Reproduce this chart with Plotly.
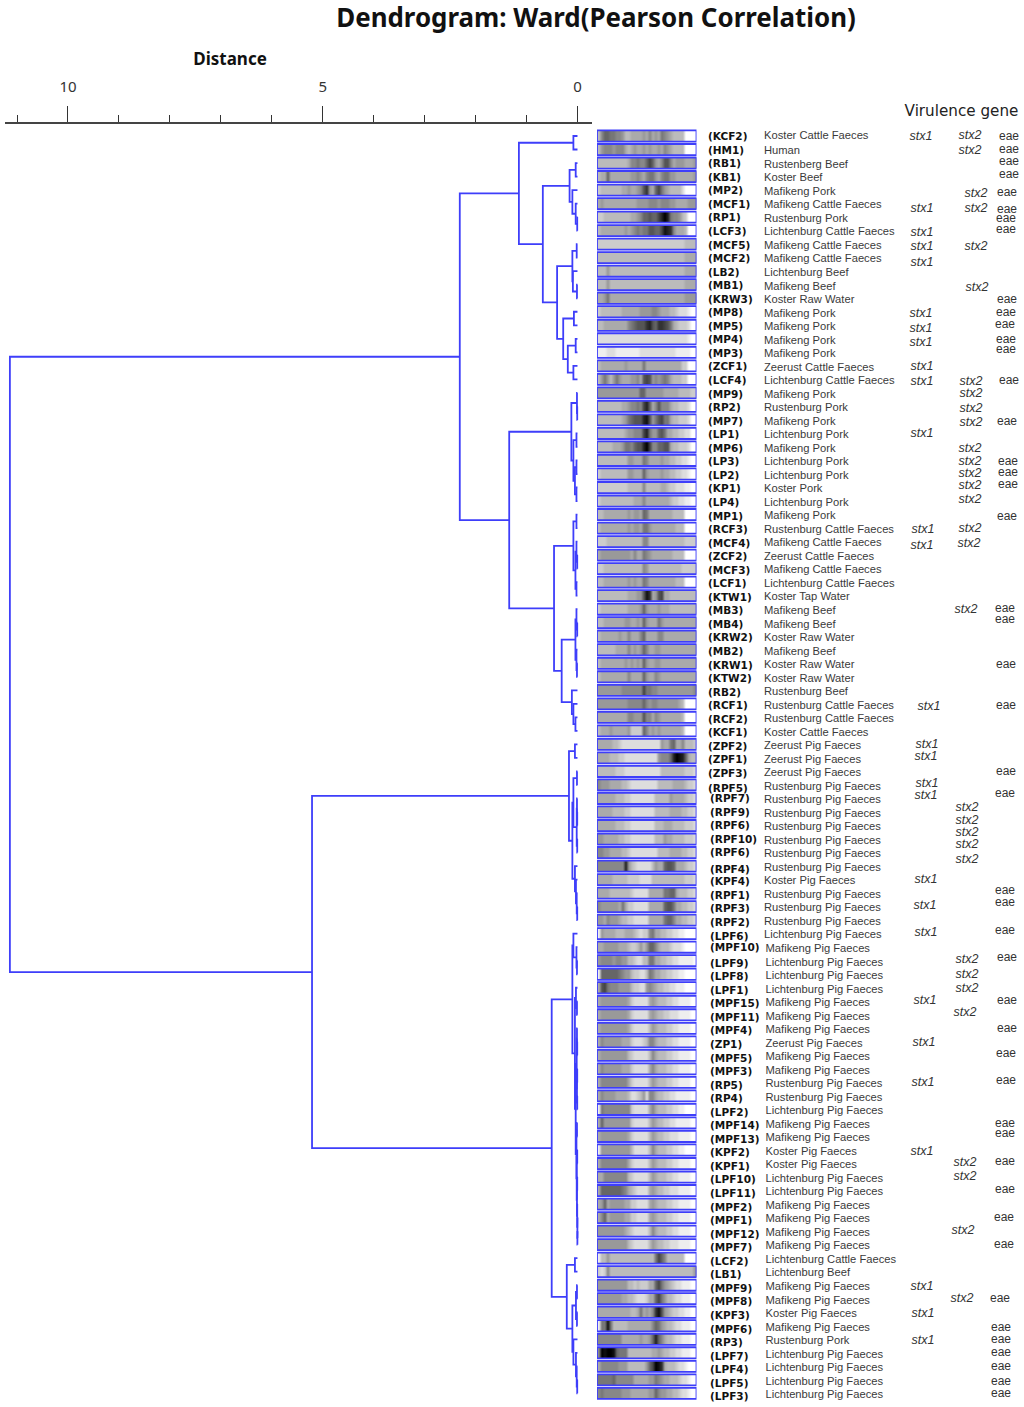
import plotly.graph_objects as go

PAGE_W, PAGE_H = 1024, 1407

# isolates, top to bottom
isolates = ["KCF2","HM1","RB1","KB1","MP2","MCF1","RP1","LCF3","MCF5","MCF2","LB2","MB1","KRW3","MP8","MP5","MP4","MP3","ZCF1","LCF4",
            "MP9","RP2","MP7","LP1","MP6","LP3","LP2","KP1","LP4","MP1","RCF3","MCF4","ZCF2","MCF3","LCF1","KTW1","MB3","MB4","KRW2",
            "MB2","KRW1","KTW2","RB2","RCF1","RCF2","KCF1","ZPF2","ZPF1","ZPF3","RPF5","RPF7","RPF9","RPF6","RPF10","RPF6","RPF4","KPF4",
            "RPF1","RPF3","RPF2","LPF6","MPF10","LPF9","LPF8","LPF1","MPF15","MPF11","MPF4","ZP1","MPF5","MPF3","RP5","RP4","LPF2",
            "MPF14","MPF13","KPF2","KPF1","LPF10","LPF11","MPF2","MPF1","MPF12","MPF7","LCF2","LB1","MPF9","MPF8","KPF3","MPF6","RP3",
            "LPF7","LPF4","LPF5","LPF3"]

sources = ["Koster Cattle Faeces","Human","Rustenberg Beef","Koster Beef","Mafikeng Pork","Mafikeng Cattle Faeces","Rustenburg Pork",
           "Lichtenburg Cattle Faeces","Mafikeng Cattle Faeces","Mafikeng Cattle Faeces","Lichtenburg Beef","Mafikeng Beef","Koster Raw Water",
           "Mafikeng Pork","Mafikeng Pork","Mafikeng Pork","Mafikeng Pork","Zeerust Cattle Faeces","Lichtenburg Cattle Faeces","Mafikeng Pork",
           "Rustenburg Pork","Mafikeng Pork","Lichtenburg Pork","Mafikeng Pork","Lichtenburg Pork","Lichtenburg Pork","Koster Pork",
           "Lichtenburg Pork","Mafikeng Pork","Rustenburg Cattle Faeces","Mafikeng Cattle Faeces","Zeerust Cattle Faeces","Mafikeng Cattle Faeces",
           "Lichtenburg Cattle Faeces","Koster Tap Water","Mafikeng Beef","Mafikeng Beef","Koster Raw Water","Mafikeng Beef","Koster Raw Water",
           "Koster Raw Water","Rustenburg Beef","Rustenburg Cattle Faeces","Rustenburg Cattle Faeces","Koster Cattle Faeces","Zeerust Pig Faeces",
           "Zeerust Pig Faeces","Zeerust Pig Faeces","Rustenburg Pig Faeces","Rustenburg Pig Faeces","Rustenburg Pig Faeces","Rustenburg Pig Faeces",
           "Rustenburg Pig Faeces","Rustenburg Pig Faeces","Rustenburg Pig Faeces","Koster Pig Faeces","Rustenburg Pig Faeces","Rustenburg Pig Faeces",
           "Rustenburg Pig Faeces","Lichtenburg Pig Faeces","Mafikeng Pig Faeces","Lichtenburg Pig Faeces","Lichtenburg Pig Faeces",
           "Lichtenburg Pig Faeces","Mafikeng Pig Faeces","Mafikeng Pig Faeces","Mafikeng Pig Faeces","Zeerust Pig Faeces","Mafikeng Pig Faeces",
           "Mafikeng Pig Faeces","Rustenburg Pig Faeces","Rustenburg Pig Faeces","Lichtenburg Pig Faeces","Mafikeng Pig Faeces","Mafikeng Pig Faeces",
           "Koster Pig Faeces","Koster Pig Faeces","Lichtenburg Pig Faeces","Lichtenburg Pig Faeces","Mafikeng Pig Faeces","Mafikeng Pig Faeces",
           "Mafikeng Pig Faeces","Mafikeng Pig Faeces","Lichtenburg Cattle Faeces","Lichtenburg Beef","Mafikeng Pig Faeces","Mafikeng Pig Faeces",
           "Koster Pig Faeces","Mafikeng Pig Faeces","Rustenburg Pork","Lichtenburg Pig Faeces","Lichtenburg Pig Faeces","Lichtenburg Pig Faeces",
           "Lichtenburg Pig Faeces"]

# gel lanes, one hex digit per column, 0 black .. f white
lanes = [
    "b86677889bbaaaa9a8a9a789abbbbffff","b98889888aba9aa9a9aa9a89abbbbffff","bbbbbbbbbba887886469a8558a999aaa9","baa6aaaaaaa9989a8779a87799aaaaaa9",
    "cbbbbbbbaa9aa98539a6479abbbbdffff","a9aaaaaaaaaaa9999888988899aaaa999","ccbbbbbbbbbaa986656642027889bcfff","baaaaaaaa9a987877556641238aaabfff",
    "cccccccccccccccccccccccccccccbbbb","bbbbbbbbbbbbbbbbbbbbbbbbbbbbbaaaa","bbb9bbbbbbbbbbbbbbbbbbbbbbbbbaaaa","bbb9bbbbbbbbbbbbbbbbbbbbbbbbbaaaa",
    "aa97aaaaaaaaaaaaaaaaaaaaaaaaa9999","cbbbbbbbaaaaaa9999889aaabbcdddeff","bbaaaaaaaa876555325633457abcccdff","ddddddddddddddddddddddddddddddeff",
    "eeedddeeeeeeeeddddddddddddeeeeeff","baaaaaaaa9aaaaa7aaaaaaaaaaaaccfff","b979b979aaa998a545989878abbbccfff","9999999999999966999999aaaaabbbbcc",
    "bbbbbbbbaa98878426a85888abbcccdff","bbbbbbbba976555215975477abbcccdff","bbbbbbbbba9988842799657aabbccddff","bbbbbaaa9778655204886655abbcccdff",
    "bbbbbbbbbb99aaa78aaaa9aabbccddeff","cbbbbbbbbb99aaa69aaaa9aabbccddeff","ccccccccccbbbbb8bbbbbaabccdddeeff","cbbbbbbbbbbbaaa8aaaaaaaabccddeeff",
    "bbaaaaaaaa9a99a67aaaaaaaabbbbffff","baaaaaaaaa9a99a779aaaaaaaabbbffff","cccbbbbbbbbbbbb88bbbbbbbbbbbbcccc","a9999999999a8aa789aaaaaaabbbbffff",
    "ccbbbbbbbbbbbbb89bbbbbbbbbbbccccc","bbaaaaaaaa9a9aa78aaaaaaaaabbbffff","bbbbbbbbbbaaa99513a954aabbbbbbbbb","cbbbbbbbbbaaaa969aaa9aaabbbbbbbbb",
    "bbaaaaaaa99aa9a69aaa79aaaaaaaaaaa","baaaaaa9aa8aaa86aaaa88aaaaaaaaaaa","bbbbbbaaaa8a9a968aa99aaaaaaaaaaaa","baaaaaaaa9a9a9a69aa99aaaaaaaaaaaa",
    "baaaaaaaaa8aaaa69aa89aaaaaaaaaaaa","999999998888888477889999999999998","999999999988888689889999999abffff","aaaaaaaaaa88999588a89aaaaaaabffff",
    "baaa9aaaaa9cccc68a9a9aaaaaaabffff","aaaaabbcddddddddddddd9aa76aa8bbbc","aaaabbbccddddddddddd9888620126abb","bbbbbbcccddddddddddddbbbbbbbbcccd",
    "8999aaaabbcdddddddddbbbbbaaaabccd","aaaaaabbbccddddddddbbbbb9aaaabccd","aaaaabbbbccddddddddbbbbbaaaabbccd","aaaaaabbbccddddddddbbbaaabbbbcccd",
    "99aaaaabbccddddddddbbb9aabbbbcccd","8899aaaabbcdddddddddbbbbaaaabbccd","88888888829bcdddddb9aa6556aaabccd","aaaaabbbbbccccddddbbbbbbbbbbbcccd",
    "aaaabbbbbbbcdddddaaaaa7766abbbccd","8999999a7accdddddaaaaa6557aabbccd","99a8999abbccdddddaaaaa7668aabbccd","e9aaaabbbaaabcdcc87aabbccddeeffff",
    "aa99999aaabccb9b9668abbbcdddeffff","9888898899bbcddbb77aabbccddeeeeef","e6666667899bccddb78aabbccddeeffff","a5478889999bccdd989abbccddeeeffff",
    "a999999999acddddda9abbbccddeeeeff","a999999999acddddda9abbccdddeeeeff","a999999999acdddddb9abbbccddeeeeff","a8999999aaacdddcb88abbbccddeeeeff",
    "a999999999bcdddddb8abbbccddeeeeff","a8999999aaacddddda8abbbccddeeeeff","a888888888acdddddb9abbbccddeeeeff","a89999aaaabddcb9d88abbccddeeeeeff",
    "e7888888888cddddda8abbbccddeeffff","a6999999999cdddddb9abbccddeeeeeff","a999999999acdddddb9abbccdddeeeeff","e9999999999bdddddb8abbbccddeeffff",
    "a888888888acdddddb9abbbccddeeeeff","aa88888888bcdddddb9abbbccddeeeeff","a666666678abcdddda9abbccdddeeeeff","a96a99999aaccdddda9abbbccddeeeeff",
    "a86a99999aaccdddda9abbbccddeeeeff","999999999abcdddddb8abbbccddeeeeff","9999999999bcdddddb9abbccdddeeeeff","ebb9bbbbbbbbbbbbbbb7468bbbbbbffff",
    "cdc8bbbbbbbbbbbbbbbbbbbbbbbbbbbb9","9999999999bbcbcccaa6479abcddeeeff","99999999aabbcdddcaa6479bbcddeeeff","aaaaaaaaaaabba7a9a83159abccddeeff",
    "e7717bbbbbaaaaaaaa8679abbcddeeeff","88888888aaaaaa9aa96268abbcddeeeff","8010016777bbbbbbbbaa9abbccddeeeff","a888888999bbbbbb964013abbbcddefff",
    "777776888888aaaaa99789aabbbcddeff","87888888999aaaaaa996899aabbcddeff"]

# distance at each merge (height, left, right), leaves are row numbers
cl_a = (0.08, 0, 1)
cl_d = (0.155, (0.035, 2, 3), (0.10, 4, (0.035, 5, (0.005, 6, 7))))
cl_j = (0.10, (0.015, 8, 9), (0.09, 10, (0.01, 11, 12)))
cl_n = (0.28, (0.07, 13, 14), (0.19, (0.035, 15, 16), (0.08, 17, 18)))
cl_b = (1.15, cl_a, (0.68, cl_d, (0.40, cl_j, cl_n)))
cl_u = (0.12, (0.01, 19, (0.005, 20, 21)), (0.08, (0.02, 22, 23), (0.05, (0.02, 24, 25), (0.02, 26, 27))))
cl_aa = (0.08, (0.02, 28, 29), (0.04, (0.02, 30, (0.005, 31, 32)), (0.02, 33, 34)))
cl_ad = (0.04, (0.02, 35, (0.005, 36, 37)), (0.02, 38, (0.01, 39, 40)))
cl_ag = (0.11, 41, (0.08, 42, (0.04, 43, 44)))
cl_top = (2.31, cl_b, (1.34, cl_u, (0.46, cl_aa, (0.31, cl_ad, cl_ag))))
cl_bc = (0.08, (0.01, 47, 48), (0.015, (0.01, 49, (0.005, 50, 51)), (0.005, 52, 53)))
cl_bd = (0.05, 54, (0.03, 55, (0.015, 56, (0.005, 57, 58))))
cl_ba = (0.167, (0.05, 45, 46), (0.10, cl_bc, cl_bd))
cl_bg = (0.08, 59, (0.02, 60, (0.01, 61, 62)))
cl_h1 = (0.03, 63, (0.01, 64, 65))
cl_h2 = (0.015, (0.01, 66, (0.005, 67, 68)), (0.01, (0.005, 69, 70), (0.005, 71, 72)))
cl_h3 = (0.02, (0.01, 73, 74), (0.015, (0.005, 75, 76), (0.01, (0.005, 77, 78), (0.005, 79, (0.003, 80, (0.002, 81, 82))))))
cl_bi = (0.21, (0.05, 83, 84), (0.10, (0.03, (0.01, 85, 86), (0.01, 87, 88)), (0.08, 89, (0.03, 90, (0.015, 91, (0.005, 92, 93))))))
cl_bot = (5.21, cl_ba, (0.506, (0.10, cl_bg, (0.05, cl_h1, (0.035, cl_h2, cl_h3))), cl_bi))
tree = (11.14, cl_top, cl_bot)

dist_ticks = [10, 5, 0]

# gene labels as placed on the page (x centre, y centre in page pixels)
stx1_pos = [(921,135),(922,207),(922,231),(922,245),(922,261),(921,312),(921,327),(921,341),(922,365),(922,380),(922,432),(923,528),(922,544),
            (929,705),(927,743),(926,755),(927,782),(926,794),(926,878),(925,904),(926,931),(925,999),(924,1041),(923,1081),(922,1150),(922,1285),
            (923,1312),(923,1339)]
stx2_pos = [(970,134),(970,149),(976,192),(976,207),(976,245),(977,286),(971,380),(971,392),(971,407),(971,421),(970,447),(970,460),(970,472),
            (970,484),(970,498),(970,527),(969,542),(966,608),(967,806),(967,819),(967,831),(967,843),(967,858),(967,958),(967,973),(967,987),
            (965,1011),(965,1161),(965,1175),(963,1229),(962,1297)]
eae_pos = [(1009,135),(1009,148),(1009,160),(1009,173),(1007,191),(1007,208),(1006,217),(1006,228),(1007,298),(1006,311),(1005,323),(1006,338),
           (1006,348),(1009,379),(1007,420),(1008,460),(1008,471),(1008,483),(1007,515),(1005,607),(1005,618),(1006,663),(1006,704),(1006,770),
           (1005,792),(1005,889),(1005,901),(1005,929),(1007,956),(1007,999),(1007,1027),(1006,1052),(1006,1079),(1005,1122),(1005,1132),(1005,1160),
           (1005,1188),(1004,1216),(1004,1243),(1000,1297),(1001,1326),(1001,1338),(1001,1351),(1001,1365),(1001,1380),(1001,1392)]

# row pitch on the page
ROW0, PITCH = 136, 13.52
BLUE = "rgb(62,62,250)"
n = len(isolates)

# walk the tree, child y is mid of its children
den_x, den_y = [], []
def walk(node):
    if isinstance(node, int):
        return node, 0.0
    h, left, right = node
    y1, h1 = walk(left)
    y2, h2 = walk(right)
    den_x.extend([h1, h, h, h2, None])
    den_y.extend([y1, y1, y2, y2, None])
    return (y1 + y2) / 2, h
walk(tree)

fig = go.Figure()

fig.add_trace(go.Scatter(x=den_x, y=den_y, mode="lines", line=dict(color=BLUE, width=1.8), hoverinfo="skip",
                         xaxis="x", yaxis="y"))

# one smoothed heatmap per lane, two equal rows so the cell spans the lane height
for r, s in enumerate(lanes):
    vals = [int(c, 16) for c in s[:33].ljust(33, "f")]
    fig.add_trace(go.Heatmap(z=[vals, vals], y=[r - 0.205, r + 0.205], colorscale=[[0, "#000"], [1, "#fff"]],
                             zmin=0, zmax=15, zsmooth="best", showscale=False, hoverinfo="skip", xaxis="x2", yaxis="y"))

# lane outlines
box_x, box_y = [], []
for r in range(n):
    box_x += [-0.5, 32.5, 32.5, -0.5, -0.5, None]
    box_y += [r - 0.41, r - 0.41, r + 0.41, r + 0.41, r - 0.41, None]
fig.add_trace(go.Scatter(x=box_x, y=box_y, mode="lines", line=dict(color=BLUE, width=1.8), hoverinfo="skip",
                         xaxis="x2", yaxis="y"))

# text
TEXT_DY = 1.5
id_nudge = {48: 1, 49: -2, 50: -2, 51: -2, 52: -2, 53: -2, 54: 1.5, 60: -2}
id_y = [136 + 13.55 * i + id_nudge.get(i, 0) + TEXT_DY for i in range(n)]
id_x = [708 if i < 49 else 710 for i in range(n)]
src_y = [136.5 + 13.52 * i + TEXT_DY for i in range(n)]
src_y[0] -= 2
src_x = [764 if i < 60 else 765.5 for i in range(n)]

def page_text(x, y, text, font, pos="middle right"):
    fig.add_trace(go.Scatter(x=x, y=y, text=text, mode="text", textposition=pos, textfont=font, cliponaxis=False,
                             hoverinfo="skip", xaxis="x3", yaxis="y3"))

ID_FONT = dict(family="DejaVu Sans", size=10.5, color="#111111", weight="bold")
SRC_FONT = dict(family="Liberation Sans", size=11.2, color="#3a3a3a")
STX_FONT = dict(family="Liberation Sans", size=12.5, color="#333333", style="italic")
EAE_FONT = dict(family="Liberation Sans", size=12, color="#333333")

page_text(id_x, id_y, [f"({s})" for s in isolates], ID_FONT)
page_text(src_x, src_y, sources, SRC_FONT)
for pos, label, font in [(stx1_pos, "stx1", STX_FONT), (stx2_pos, "stx2", STX_FONT), (eae_pos, "eae", EAE_FONT)]:
    page_text([p[0] for p in pos], [p[1] + TEXT_DY for p in pos], [label] * len(pos), font, "middle center")

page_text([596], [21], ["Dendrogram: Ward(Pearson Correlation)"],
          dict(family="Noto Sans", size=25.9, color="#111111", weight="bold"), "middle center")
page_text([230], [61], ["Distance"], dict(family="Noto Sans", size=17, color="#111111", weight="bold"), "middle center")
page_text([961.5], [112], ["Virulence gene"], dict(family="DejaVu Sans", size=15.2, color="#222222"), "middle center")

fig.update_layout(
    width=PAGE_W, height=PAGE_H,
    margin=dict(l=0, r=0, t=0, b=0),
    paper_bgcolor="white", plot_bgcolor="rgba(0,0,0,0)",
    showlegend=False,
    xaxis=dict(domain=[5 / PAGE_W, 592 / PAGE_W], range=[11.236, -0.285], anchor="y", side="top",
               tickvals=dist_ticks, ticks="outside", ticklen=16, tickwidth=1.2, tickcolor="#333",
               tickfont=dict(family="Noto Sans", size=15, color="#333"), ticklabelstandoff=8,
               minor=dict(dtick=1, tick0=0, ticks="outside", ticklen=7, tickwidth=1, tickcolor="#333"),
               showline=True, linecolor="#444", linewidth=1.5, showgrid=False, zeroline=False),
    yaxis=dict(domain=[0, 1 - 123.5 / PAGE_H], range=[(PAGE_H - ROW0) / PITCH, (123.5 - ROW0) / PITCH], visible=False),
    xaxis2=dict(domain=[597 / PAGE_W, 696.5 / PAGE_W], range=[-0.5, 32.5], anchor="y", visible=False),
    xaxis3=dict(domain=[0, 1], range=[0, PAGE_W], anchor="y3", visible=False),
    yaxis3=dict(domain=[0, 1], range=[PAGE_H, 0], anchor="x3", visible=False),
)

fig.write_html("out.html", config=dict(displayModeBar=False), post_script="document.body.style.margin='0';")
